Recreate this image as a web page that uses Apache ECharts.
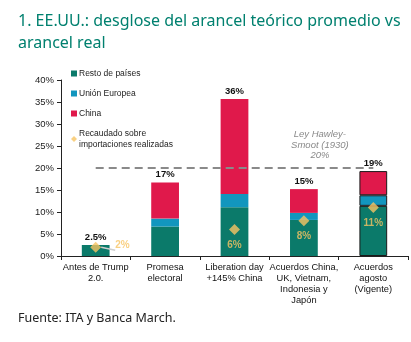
<!DOCTYPE html>
<html>
<head>
<meta charset="utf-8">
<script src="https://cdn.jsdelivr.net/npm/echarts@6/dist/echarts.min.js"></script>
<style>
  html, body { margin: 0; padding: 0; background: #fff; }
  #chart { width: 411px; height: 342px; }
</style>
</head>
<body>
<div id="chart"></div>
<script>
// Escenarios de arancel promedio de EE.UU. (%)
const categories = [
  'Antes de Trump\n2.0.',
  'Promesa\nelectoral',
  'Liberation day\n+145% China',
  'Acuerdos China,\nUK, Vietnam,\nIndonesia y\nJapón',
  'Acuerdos\nagosto\n(Vigente)'
];
const restoPaises   = [2.5, 6.7, 11.1, 8.2, 11.4];
const unionEuropea  = [0,   1.8, 3.0,  1.6, 2.4];
const china         = [0,   8.2, 21.6, 5.4, 5.5];
const recaudado     = [2, null, 6, 8, 11];
const hawleySmoot   = 20;
const yTicks = { min: 0, max: 40, interval: 5 };

const GREEN = '#0B7A6A', BLUE = '#1296BE', RED = '#E0194B', GOLD = '#F7C463';
const FONT = '"Liberation Sans", Arial, sans-serif';
const VIGENTE = 4;

const totals = categories.map((_, i) => restoPaises[i] + unionEuropea[i] + china[i]);
const fmtTotal = v => (v < 5 ? v.toFixed(1) : Math.round(v).toString()) + '%';

// the current scenario is outlined in black
const withOutline = arr => arr.map((v, i) => i === VIGENTE
  ? { value: v, itemStyle: { borderColor: '#1a1a1a', borderWidth: 1 } }
  : v);

const chart = echarts.init(document.getElementById('chart'), null, { renderer: 'canvas' });

chart.setOption({
  animation: false,
  title: [
    {
      text: '1. EE.UU.: desglose del arancel teórico promedio vs',
      left: 13, top: 8,
      textStyle: { fontFamily: '"Noto Sans", sans-serif', fontSize: 16, fontWeight: 'normal', color: '#00806F' }
    },
    {
      text: 'arancel real',
      left: 13, top: 30,
      textStyle: { fontFamily: '"Noto Sans", sans-serif', fontSize: 16, fontWeight: 'normal', color: '#00806F' }
    },
    {
      text: 'Fuente: ITA y Banca March.',
      left: 13, top: 307,
      textStyle: { fontFamily: '"Noto Sans", sans-serif', fontSize: 12.5, fontWeight: 'normal', color: '#222' }
    }
  ],
  legend: {
    orient: 'vertical',
    left: 66, top: 63,
    itemWidth: 6, itemHeight: 6, itemGap: 9,
    textStyle: { fontFamily: FONT, fontSize: 8.5, lineHeight: 11, color: '#222', padding: [0, 0, 0, -3] },
    data: [
      { name: 'Resto de países', icon: 'rect' },
      { name: 'Unión Europea', icon: 'rect' },
      { name: 'China', icon: 'rect' },
      { name: 'Recaudado sobre\nimportaciones realizadas', icon: 'diamond' }
    ]
  },
  grid: { left: 61, right: 3, top: 80, bottom: 86 },
  xAxis: {
    type: 'category',
    data: categories,
    boundaryGap: true,
    axisLine: { lineStyle: { color: '#222', width: 1 } },
    axisTick: { show: true, alignWithLabel: false, length: 4, lineStyle: { color: '#222' } },
    axisLabel: { interval: 0, margin: 6, fontFamily: FONT, fontSize: 9.3, color: '#111', lineHeight: 11 }
  },
  yAxis: {
    type: 'value',
    min: yTicks.min, max: yTicks.max, interval: yTicks.interval,
    axisLine: { show: true, lineStyle: { color: '#222', width: 1 } },
    axisTick: { show: true, length: 4, lineStyle: { color: '#222' } },
    splitLine: { show: false },
    axisLabel: { formatter: '{value}%', margin: 7, fontFamily: FONT, fontSize: 9.5, color: '#222' }
  },
  series: [
    {
      name: 'Resto de países', type: 'bar', stack: 'arancel', barWidth: '40%',
      itemStyle: { color: GREEN },
      data: withOutline(restoPaises),
      markLine: {
        silent: true, symbol: 'none',
        lineStyle: { color: '#8a8a8a', width: 2, type: [8, 5] },
        label: { show: false },
        data: [[{ coord: [0, hawleySmoot] }, { coord: [VIGENTE, hawleySmoot] }]]
      },
      markPoint: {
        silent: true, symbol: 'circle', symbolSize: 0,
        data: [{ coord: [3, hawleySmoot] }],
        label: {
          show: true, position: 'top', offset: [16, -2],
          formatter: 'Ley Hawley-\nSmoot (1930)\n' + hawleySmoot + '%',
          fontFamily: FONT, fontSize: 9.5, fontStyle: 'italic', color: '#8a8a8a', lineHeight: 10.5, align: 'center'
        }
      }
    },
    {
      name: 'Unión Europea', type: 'bar', stack: 'arancel',
      itemStyle: { color: BLUE },
      data: withOutline(unionEuropea)
    },
    {
      name: 'China', type: 'bar', stack: 'arancel',
      itemStyle: { color: RED },
      data: withOutline(china),
      label: {
        show: true, position: 'top', distance: 3,
        fontFamily: FONT, fontSize: 9.5, fontWeight: 'bold', color: '#111',
        formatter: p => fmtTotal(totals[p.dataIndex])
      }
    },
    {
      name: 'Recaudado sobre\nimportaciones realizadas', type: 'scatter',
      symbol: 'diamond', symbolSize: 11, z: 5,
      itemStyle: { color: GOLD },
      label: {
        show: true, position: 'bottom', distance: 5,
        fontFamily: FONT, fontSize: 10, fontWeight: 'bold', color: GOLD,
        formatter: p => p.value[1] + '%'
      },
      data: recaudado.map((v, i) => {
        if (v === null) return null;
        const item = { value: [i, v] };
        if (i === 0) {
          item.label = { position: 'right', distance: 14, offset: [0, -2] };
          item.labelLine = { show: true, lineStyle: { color: '#cfcfcf', width: 1.5 } };
        }
        return item;
      }).filter(d => d !== null)
    }
  ]
});
</script>
</body>
</html>
